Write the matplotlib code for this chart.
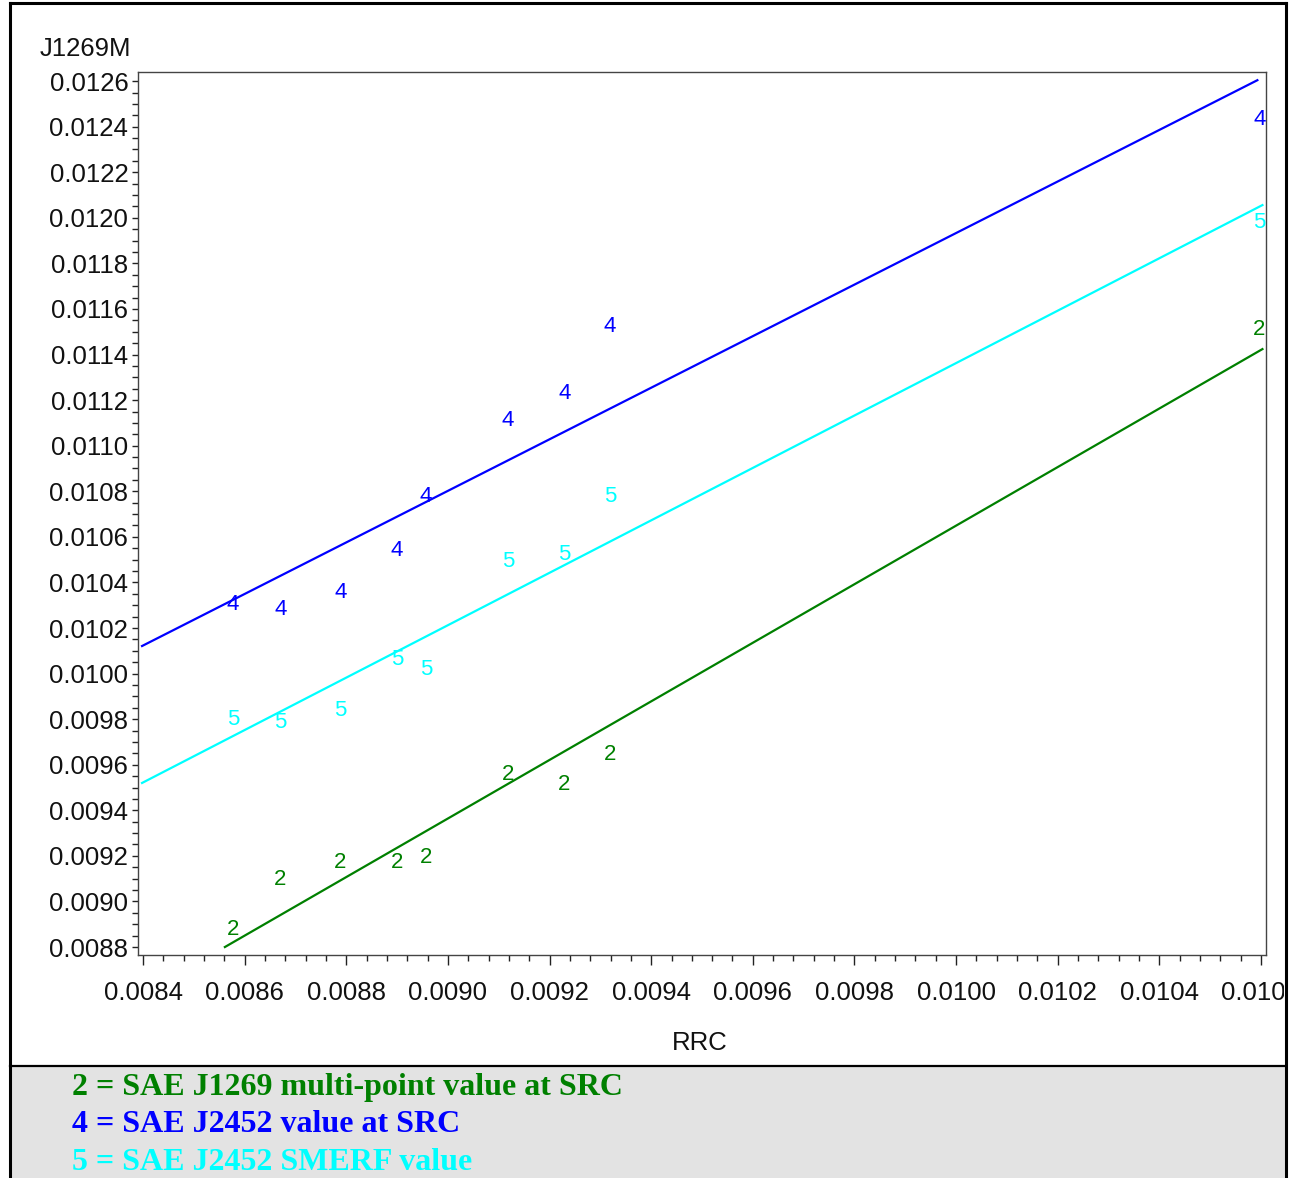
import matplotlib.pyplot as plt
from matplotlib.patches import Rectangle
from matplotlib.lines import Line2D
from matplotlib.ticker import MultipleLocator, FormatStrFormatter

# ---------------- data ----------------
rrc = [0.008577, 0.008670, 0.008788, 0.008900, 0.008957,
       0.009118, 0.009229, 0.009319, 0.010597]

j2452_src = [0.010305, 0.010283, 0.010358, 0.010542, 0.010775,
             0.011112, 0.011227, 0.011525, 0.012433]
j2452_smerf = [0.009800, 0.009787, 0.009840, 0.010060, 0.010020,
               0.010490, 0.010524, 0.010775, 0.011981]
j1269_multi = [0.008879, 0.009098, 0.009169, 0.009169, 0.009195,
               0.009555, 0.009515, 0.009647, 0.011512]

# fitted line end points
fit4_x = [0.008398, 0.010593]
fit4_y = [0.010121, 0.012604]
fit5_x = [0.008398, 0.010603]
fit5_y = [0.009520, 0.012056]
fit2_x = [0.008561, 0.010603]
fit2_y = [0.008800, 0.011424]

series = [
    ("2", j1269_multi, fit2_x, fit2_y, "#008000"),
    ("4", j2452_src, fit4_x, fit4_y, "#0000ff"),
    ("5", j2452_smerf, fit5_x, fit5_y, "#00ffff"),
]

legend_lines = [
    ("2 = SAE J1269 multi-point value at SRC", "#008000"),
    ("4 = SAE J2452 value at SRC", "#0000ff"),
    ("5 = SAE J2452 SMERF value", "#00ffff"),
]

# ---------------- figure ----------------
W, H = 1293, 1178
fig = plt.figure(figsize=(W / 100, H / 100), dpi=100)

sans = ["Liberation Sans", "DejaVu Sans"]
serif = ["Liberation Serif", "DejaVu Serif"]

# gray legend band and outer frame
fig.patches.append(Rectangle((10 / W, 0), 1276 / W, (H - 1066) / H,
                             transform=fig.transFigure, facecolor="#e3e3e3",
                             edgecolor="none", zorder=0))
for xs, ys, lw in [([10, 10], [3, H], 2.2), ([1286, 1286], [3, H], 2.2),
                   ([10, 1286], [3, 3], 2.2), ([10, 1286], [1066, 1066], 1.6)]:
    fig.add_artist(Line2D([x / W for x in xs], [1 - y / H for y in ys],
                          transform=fig.transFigure, color="black", lw=lw))

ax = fig.add_axes([138 / W, 1 - 955 / H, (1266 - 138) / W, (955 - 72) / H])

for label, ys, lx, ly, col in series:
    ax.plot(lx, ly, color=col, lw=1.6, zorder=2)
    for x, y in zip(rrc, ys):
        ax.text(x, y, label, color=col, fontsize=16, family=sans,
                ha="center", va="center", zorder=3)

ax.set_xlim(0.00839, 0.01061)
ax.set_ylim(0.008765, 0.01264)

ax.xaxis.set_major_locator(MultipleLocator(0.0002))
ax.xaxis.set_minor_locator(MultipleLocator(0.00004))
ax.yaxis.set_major_locator(MultipleLocator(0.0002))
ax.yaxis.set_minor_locator(MultipleLocator(0.00005))
ax.xaxis.set_major_formatter(FormatStrFormatter("%.4f"))
ax.yaxis.set_major_formatter(FormatStrFormatter("%.4f"))

for s in ax.spines.values():
    s.set_color("#444444")
    s.set_linewidth(1.0)

ax.tick_params(axis="x", which="major", length=7, width=1, pad=12, color="#222222")
ax.tick_params(axis="x", which="minor", length=4, width=1, color="#222222")
ax.tick_params(axis="y", which="major", length=4, width=1, pad=3, color="#222222")
ax.tick_params(axis="y", which="minor", length=4, width=1, color="#222222")

# the last x label is cut by the outer frame, as in the original
frame_clip = Rectangle((0, 0), 1284 / W, 1, transform=fig.transFigure)
for t in ax.get_xticklabels() + ax.get_yticklabels():
    t.set_fontfamily(sans)
    t.set_fontsize(18.5)
    t.set_color("#111111")
    t.set_clip_on(True)
    t.set_clip_path(frame_clip)

# axis titles
fig.text(40 / W, 1 - 49 / H, "J1269M", fontsize=18.5, family=sans,
         ha="left", va="center", color="#111111")
fig.text(700 / W, 1 - 1043 / H, "RRC", fontsize=18.5, family=sans,
         ha="center", va="center", color="#111111")

# legend text in the gray band
for i, (txt, col) in enumerate(legend_lines):
    fig.text(72 / W, 1 - (1088 + 37 * i) / H, txt, fontsize=23,
             family=serif, weight="bold", color=col, ha="left", va="center")

fig.savefig("out.png", dpi=100)
